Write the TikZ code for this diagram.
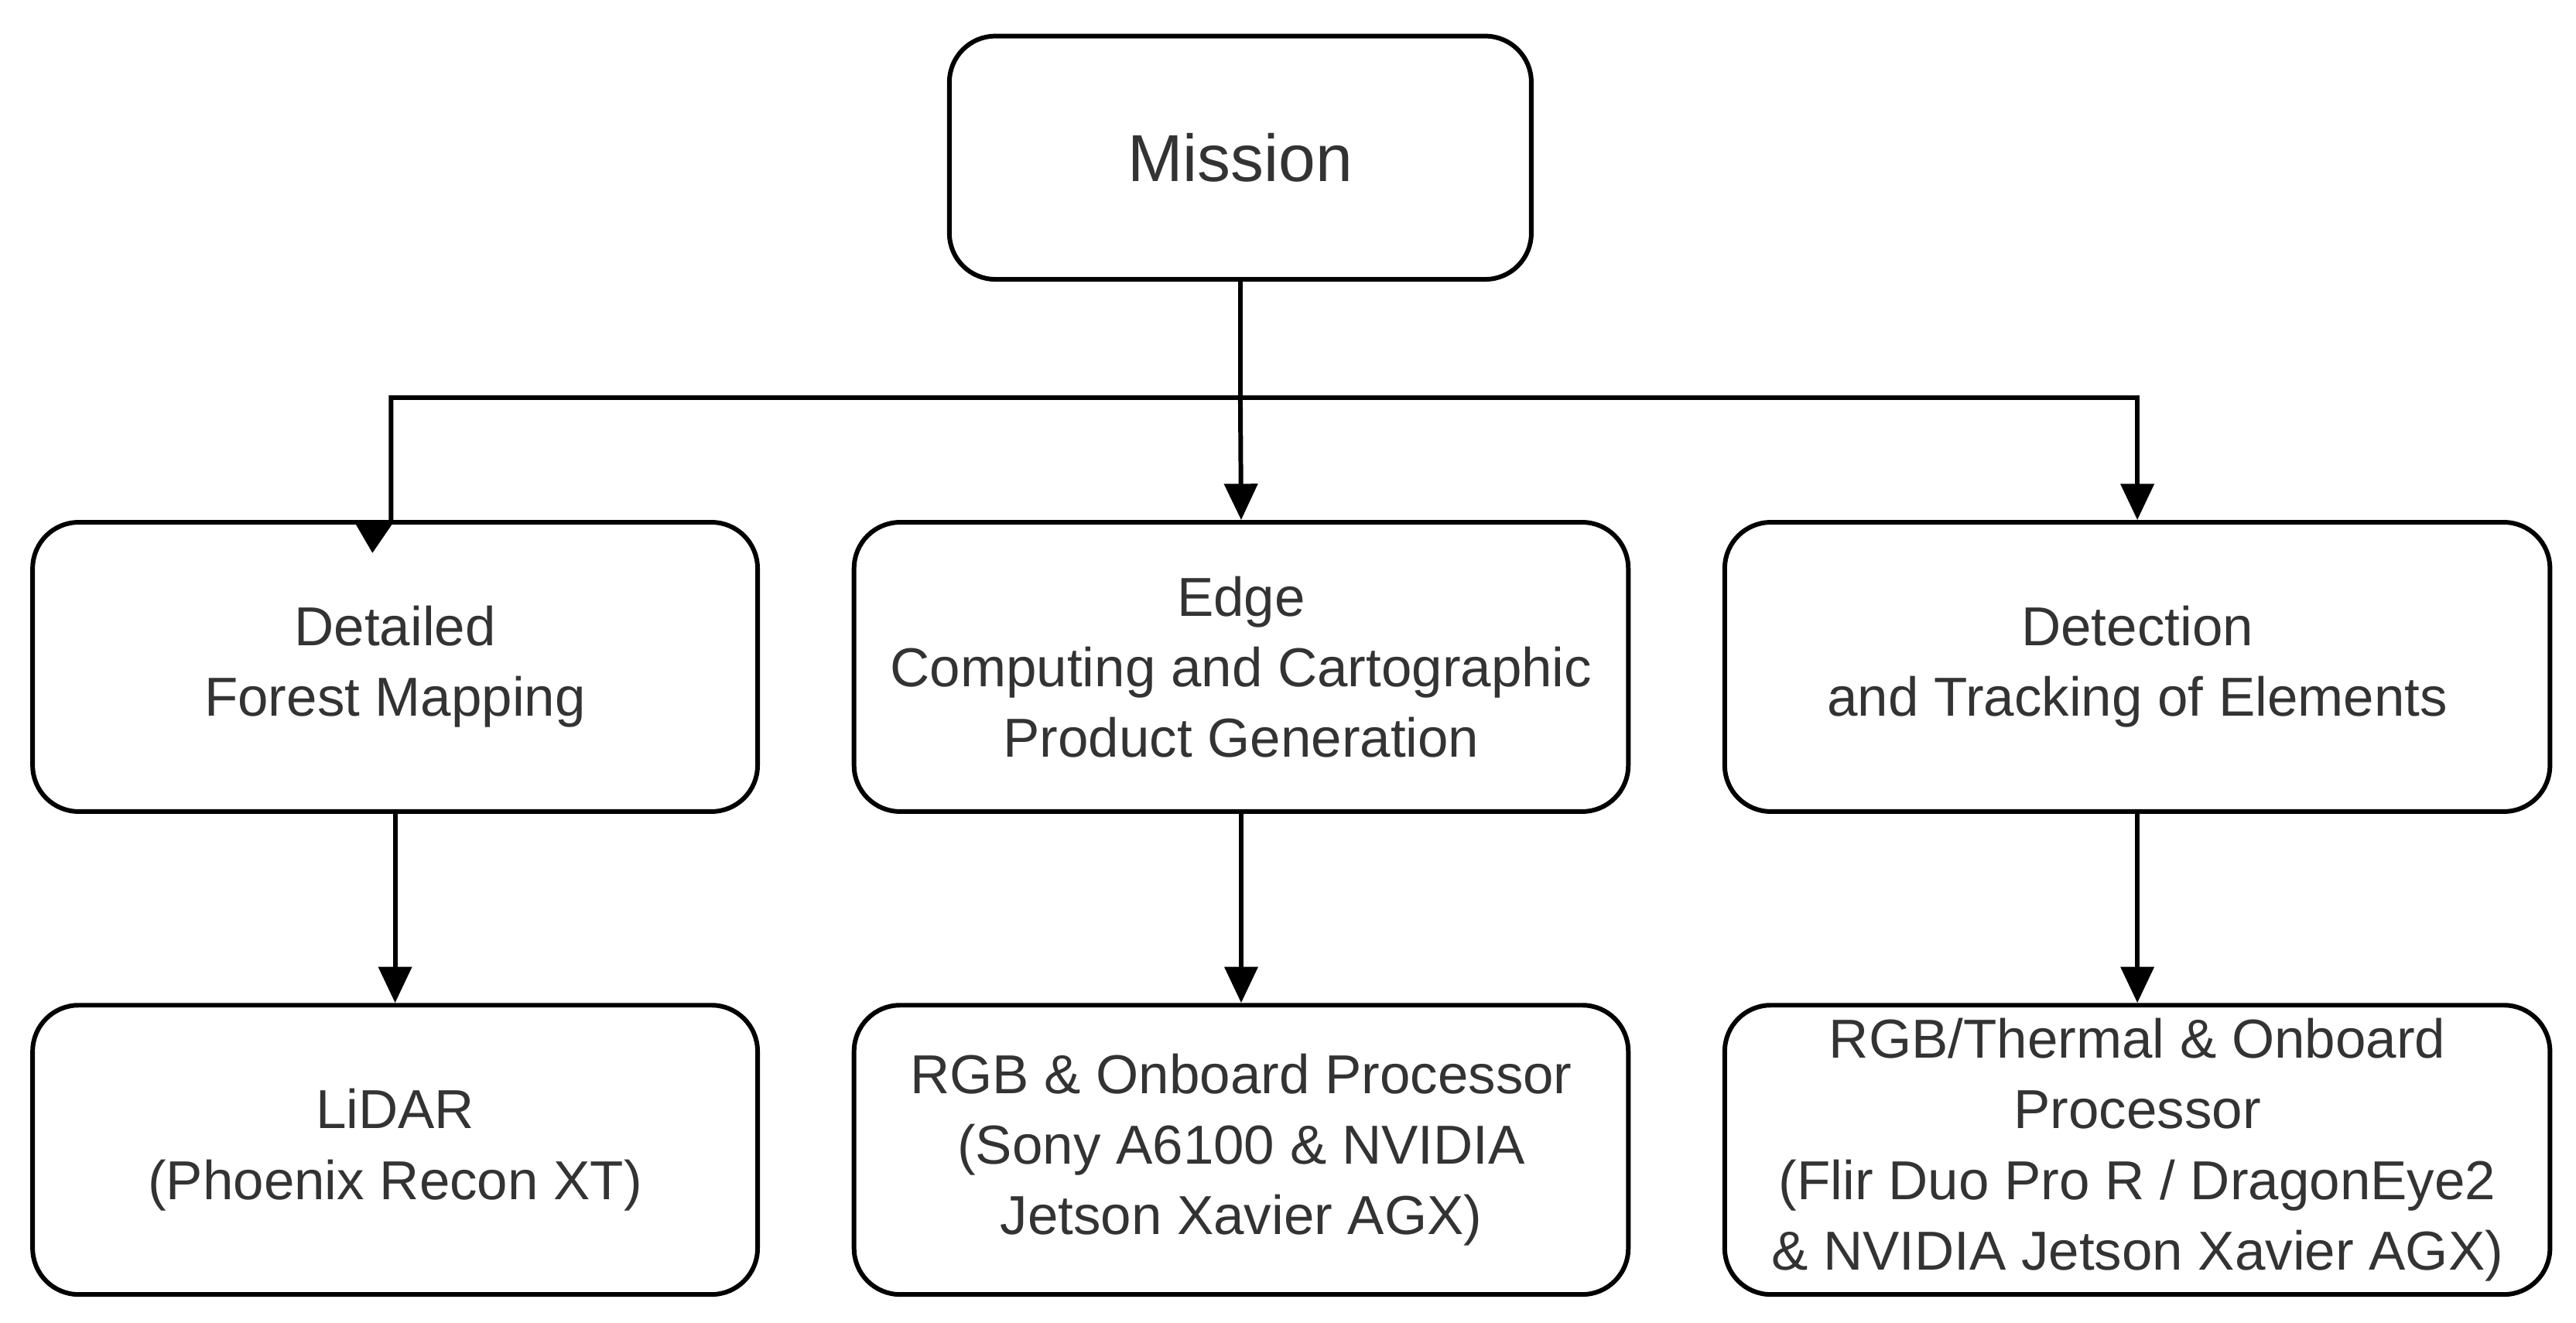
\documentclass[tikz,border=0pt]{standalone}
\usepackage{fontspec}
\setmainfont{Liberation Sans}
\usetikzlibrary{arrows.meta}
\definecolor{txt}{HTML}{333333}
\begin{document}
\begin{tikzpicture}[x=0.01cm,y=-0.01cm,
  box/.style={draw=black,line width=0.8pt,rounded corners=0.28cm,align=center,text=txt,font=\fontsize{9.5pt}{12.2pt}\selectfont,inner sep=0pt},
  arr/.style={line width=0.8pt,-{Triangle[length=0.22cm,width=0.2cm]}}]
\useasboundingbox (0,0) rectangle (1568,805);
\node[box,minimum width=3.54cm,minimum height=1.48cm,font=\fontsize{11.5pt}{14pt}\selectfont] (m) at (755,96) {Mission};
\node[box,minimum width=4.41cm,minimum height=1.76cm] (a) at (240.5,406) {Detailed\\Forest Mapping};
\node[box,minimum width=4.71cm,minimum height=1.76cm] (b) at (755.5,406) {Edge\\Computing and Cartographic\\Product Generation};
\node[box,minimum width=5.02cm,minimum height=1.76cm] (c) at (1301,406) {Detection\\and Tracking of Elements};
\node[box,minimum width=4.41cm,minimum height=1.76cm] (d) at (240.5,700) {LiDAR\\(Phoenix Recon XT)};
\node[box,minimum width=4.71cm,minimum height=1.76cm] (e) at (755.5,700) {RGB \& Onboard Processor\\(Sony A6100 \& NVIDIA\\Jetson Xavier AGX)};
\node[box,minimum width=5.02cm,minimum height=1.76cm] (f) at (1301,700) {RGB/Thermal \& Onboard\\Processor\\(Flir Duo Pro R / DragonEye2\\\& NVIDIA Jetson Xavier AGX)};
\coordinate (j) at (755,242);
\draw[line width=0.8pt] (m.south) -- (j);
\draw[arr] (j) -- (b.north);
\draw[arr] (j) -| (238,318) -- (a.north);
\draw[arr] (j) -| (c.north);
\draw[arr] (a) -- (d);
\draw[arr] (b) -- (e);
\draw[arr] (c) -- (f);
\end{tikzpicture}
\end{document}
